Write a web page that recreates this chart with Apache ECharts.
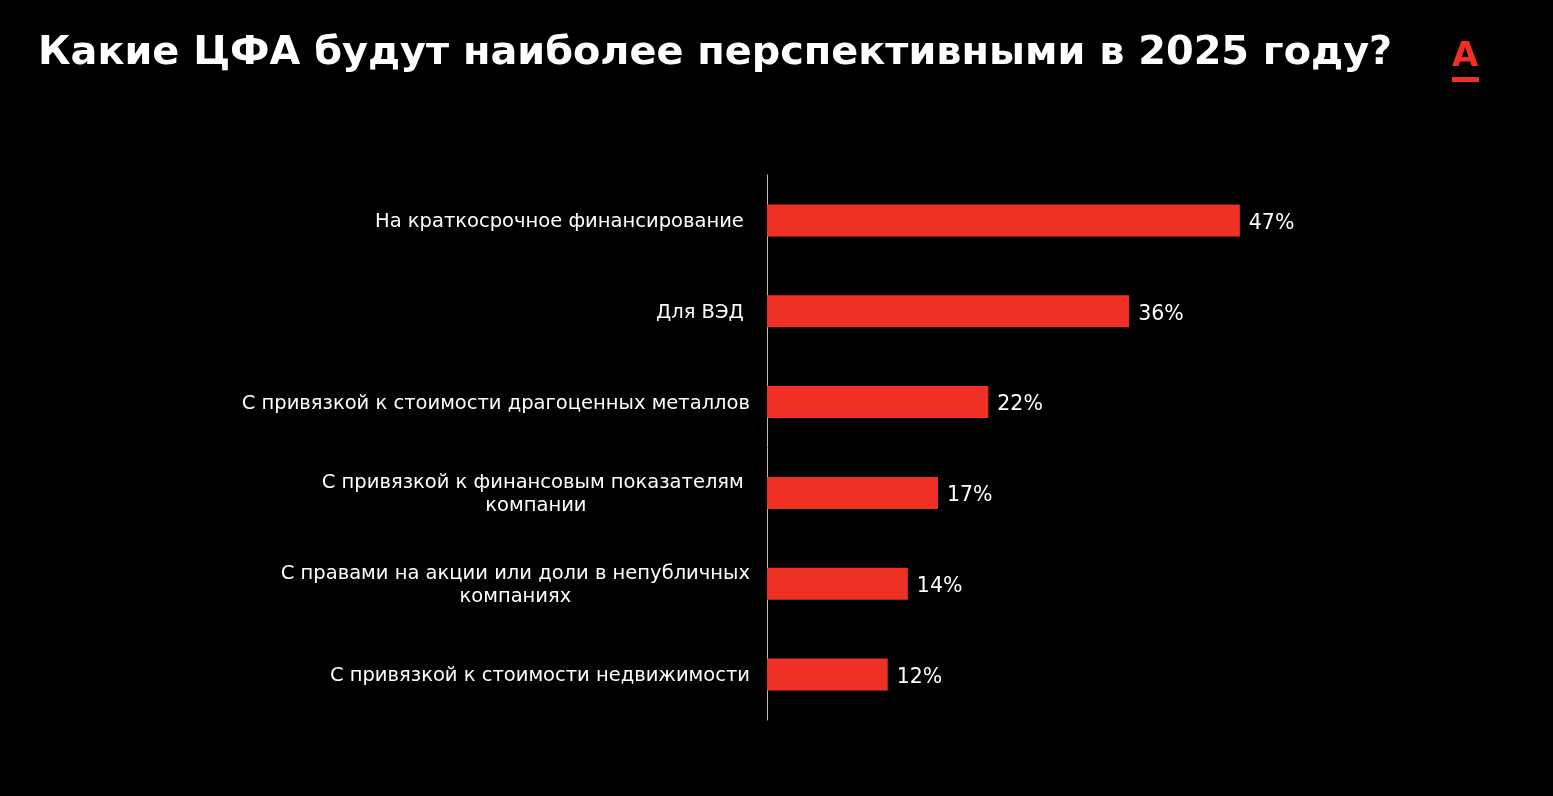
<!DOCTYPE html>
<html>
<head>
<meta charset="utf-8">
<script src="https://cdn.jsdelivr.net/npm/echarts@6/dist/echarts.min.js"></script>
<style>
  html, body { margin: 0; padding: 0; background: #000; }
  #main { width: 1553px; height: 796px; }
</style>
</head>
<body>
<div id="main"></div>
<script>
// категории сверху вниз
var categories = [
  'На краткосрочное финансирование ',
  'Для ВЭД ',
  'С привязкой к стоимости драгоценных металлов',
  'С привязкой к финансовым показателям \nкомпании',
  'С правами на акции или доли в непубличных\nкомпаниях',
  'С привязкой к стоимости недвижимости'
]
var values = [47, 36, 22, 17, 14, 12]

var chart = echarts.init(document.getElementById('main'))

var option = {
  backgroundColor: '#000',
  animation: false,
  title: {
    text: 'Какие ЦФА будут наиболее перспективными в 2025 году?',
    left: 33,
    top: 29,
    textStyle: {
      color: '#fff',
      fontFamily: 'DejaVu Sans',
      fontWeight: 'bold',
      fontSize: 39.8
    }
  },
  graphic: [
    { // логотип
      type: 'text',
      left: 1452,
      top: 40,
      style: { text: 'А', fill: '#EF3124', font: 'bold 34px "DejaVu Sans"' }
    },
    {
      type: 'rect',
      left: 1452,
      top: 77,
      shape: { width: 27, height: 5 },
      style: { fill: '#EF3124' }
    }
  ],
  grid: {
    left: 767,
    top: 175,
    width: 503,
    height: 545
  },
  xAxis: {
    type: 'value',
    min: 0,
    max: 50,
    show: false
  },
  yAxis: {
    type: 'category',
    inverse: true,
    data: categories,
    axisTick: { show: false },
    splitLine: { show: false },
    axisLine: { lineStyle: { color: '#bbb', width: 1 } },
    axisLabel: {
      margin: 17,
      color: '#fff',
      fontFamily: 'DejaVu Sans',
      fontSize: 19.5,
      lineHeight: 23,
      formatter: function (v) {
        return v.split('\n').map(function (s) { return '{c|' + s + '}' }).join('\n')
      },
      rich: {
        c: { color: '#fff', fontFamily: 'DejaVu Sans', fontSize: 19.5, lineHeight: 23, align: 'center', padding: [3, 0, 0, 0] }
      }
    }
  },
  series: [{
    type: 'bar',
    data: values,
    barWidth: 32,
    itemStyle: { color: '#EE3124' },
    label: {
      show: true,
      position: 'right',
      distance: 9,
      offset: [0, 3],
      color: '#fff',
      fontFamily: 'DejaVu Sans',
      fontSize: 20.5,
      formatter: '{c}%'
    }
  }]
}

chart.setOption(option)
</script>
</body>
</html>
